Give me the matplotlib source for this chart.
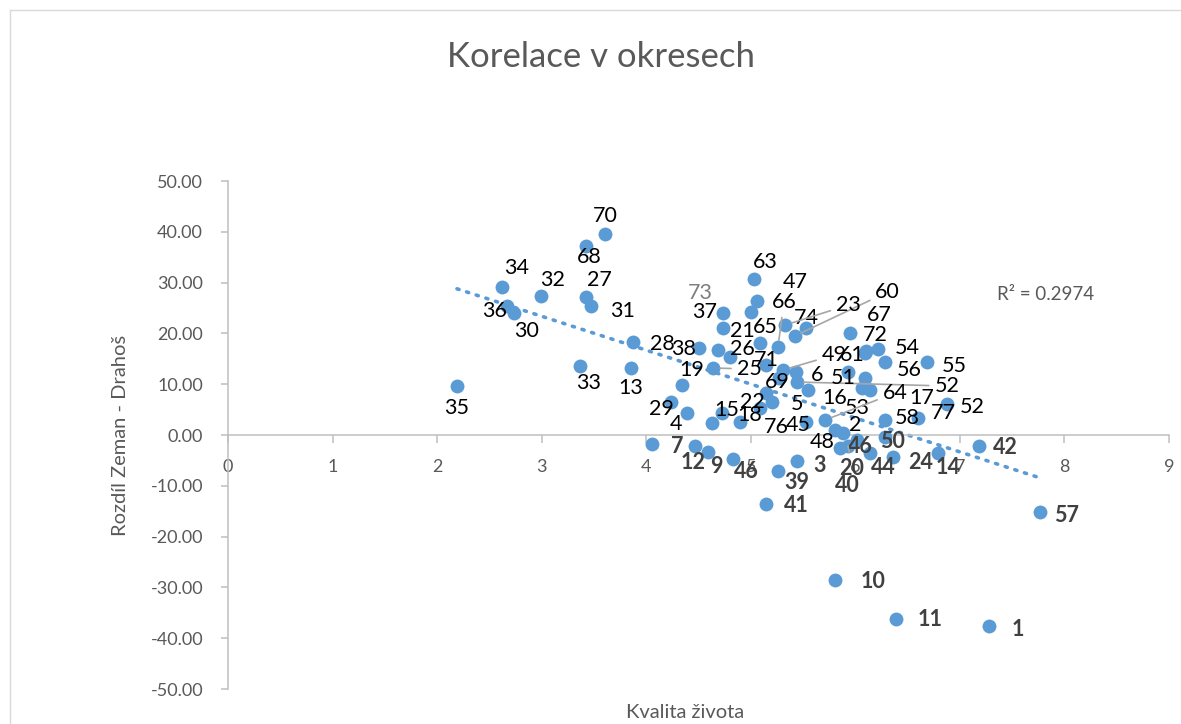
import matplotlib
matplotlib.use('Agg')
import matplotlib.pyplot as plt
import numpy as np
from matplotlib.lines import Line2D

plt.rcParams['font.family'] = ['Lato', 'DejaVu Sans']

# ---------------- data ----------------
okres = ['35', '34', '36', '30', '32', '27', '31', '68', '70', '33',
         '13', '28', '29', '4', '19', '25', '73', '37', '38', '21',
         '26', '65', '63', '47', '', '66', '60', '74', '23', '71',
         '69', '6', '5', '22', '76', '', '15', '', '18', '45',
         '49', '52', '72', '61', '67', '54', '56', '55', '51', '16',
         '53', '17', '58', '77', '52', '64', '2', '48', '46', '20',
         '40', '44', '50', '24', '14', '42', '57', '1', '11', '10',
         '3', '39', '41', '46', '9', '12', '7']

kvalita = [2.19, 2.62, 2.67, 2.74, 2.99, 3.42, 3.47, 3.42, 3.61, 3.37,
           3.85, 3.87, 4.24, 4.39, 4.34, 4.64, 4.73, 4.73, 4.50, 4.69,
           4.80, 5.09, 5.03, 5.06, 5.00, 5.26, 5.42, 5.53, 5.33, 5.15,
           5.27, 5.43, 5.55, 5.15, 5.20, 5.09, 4.63, 4.72, 4.90, 5.53,
           5.31, 5.44, 5.95, 6.09, 6.10, 6.22, 6.28, 6.69, 5.93, 6.09,
           6.06, 6.14, 6.28, 6.60, 6.88, 5.71, 5.81, 5.88, 6.02, 5.93,
           5.85, 6.14, 6.28, 6.36, 6.79, 7.18, 7.77, 7.28, 6.39, 5.81,
           5.44, 5.26, 5.15, 4.83, 4.59, 4.47, 4.06]

rozdil = [9.65, 29.13, 25.39, 24.02, 27.36, 27.17, 25.39, 37.20, 39.57, 13.58,
          13.19, 18.31, 6.50, 4.33, 9.84, 13.19, 24.02, 21.06, 17.13, 16.73,
          15.35, 18.11, 30.71, 26.38, 24.21, 17.32, 19.49, 21.06, 21.65, 13.78,
          11.22, 12.40, 8.86, 8.27, 6.50, 5.31, 2.36, 4.33, 2.56, 2.56,
          12.80, 10.43, 20.08, 16.14, 16.54, 16.93, 14.37, 14.37, 12.40, 11.22,
          9.25, 8.86, 2.95, 3.35, 6.10, 2.95, 0.98, 0.39, -0.98, -2.17,
          -2.56, -3.54, -0.39, -4.33, -3.54, -2.17, -15.16, -37.60, -36.22, -28.54,
          -5.12, -7.09, -13.58, -4.72, -3.35, -2.17, -1.77]

r2_text = 'R² = 0.2974'
title = 'Korelace v okresech'
xlabel = 'Kvalita života'
ylabel = 'Rozdíl Zeman - Drahoš'

# ---------------- label layout (pixel offsets) ----------------
label_offsets = [(0, -22), (15, 19), (-13, -5), (12, -18), (12, 16), (14, 17), (32, -5), (4, -11), (0, 18), (8, -17),
                 (0, -20), (30, -2), (-10, -7), (-11, -11), (10, 15), (36, -1), (-22, 20), (-18, 16), (-15, -1), (24, 19),
                 (13, 8), (5, 16), (11, 17), (38, 19), (0, 0), (6, 45), (93, 44), (0, 10), (63, 20), (0, 5),
                 (-2, -4), (21, -3), (-11, -14), (-14, -9), (5, -25), (0, 0), (15, 13), (0, 0), (9, 7), (-8, -3),
                 (51, 15), (150, -4), (25, -2), (-12, -2), (14, 36), (29, 1), (25, -8), (27, -4), (-5, -6), (-30, -20),
                 (-4, -20), (52, -8), (23, 2), (25, 5), (25, -3), (70, 27), (20, 5), (-21, -9), (3, -7), (4, -22),
                 (8, -37), (13, -15), (8, -5), (28, -6), (10, -15), (27, -1), (26, -3), (29, -3), (34, -1), (38, -2),
                 (23, -4), (19, -11), (30, -2), (13, -13), (8, -14), (-2, -16), (25, -3)]
leader_idx = {15, 25, 26, 28, 40, 41, 55, 59}
gray_labels = {'73'}

W, H = 1181, 724
fig = plt.figure(figsize=(W / 100, H / 100), dpi=100)
ax = fig.add_axes([228 / W, 35 / H, 941 / W, 508 / H])
ax.set_xlim(0, 9)
ax.set_ylim(-50, 50)

blue = '#5b9bd5'
ax.scatter(kvalita, rozdil, s=100, color=blue, linewidths=0, zorder=3)

# linear trendline from data
xa = np.array(kvalita)
ya = np.array(rozdil)
coef = np.polyfit(xa, ya, 1)
xs = np.array([xa.min(), xa.max()])
ax.plot(xs, np.polyval(coef, xs), color=blue, lw=2.6, linestyle=(0, (0.6, 2.2)),
        dash_capstyle='round', zorder=2)

ax.text(7.82, 27.6, r2_text, fontsize=13.5, color='#595959', ha='center', va='center')

# axes styling
axis_col = '#bfbfbf'
for s in ['top', 'right']:
    ax.spines[s].set_visible(False)
ax.spines['bottom'].set_position(('data', 0))
ax.spines['bottom'].set_color(axis_col)
ax.spines['left'].set_color(axis_col)
ax.spines['bottom'].set_linewidth(1.1)
ax.spines['left'].set_linewidth(1.1)
ax.set_xticks(range(0, 10))
ax.set_yticks(np.arange(-50, 51, 10))
ax.set_yticklabels([f'{v:.2f}' for v in np.arange(-50, 51, 10)])
ax.tick_params(axis='x', direction='out', length=6, width=1.1, color=axis_col,
               labelcolor='#595959', labelsize=13, pad=11)
ax.tick_params(axis='y', direction='out', length=5, width=1.1, color=axis_col,
               labelcolor='#595959', labelsize=13, pad=13)

# data labels
for i, (lab, xv, yv) in enumerate(zip(okres, kvalita, rozdil)):
    if not lab:
        continue
    dx, dy = label_offsets[i]
    neg = yv < 0
    color = '#404040' if neg else 'black'
    weight = 'bold' if neg else 'normal'
    if lab in gray_labels:
        color = '#7f7f7f'
    kw = {}
    if i in leader_idx:
        kw['arrowprops'] = dict(arrowstyle='-', color='#a6a6a6', lw=1.2,
                                shrinkA=2, shrinkB=5)
    ax.annotate(lab, (xv, yv), xytext=(dx, dy), textcoords='offset pixels',
                ha='center', va='center', fontsize=15.5, color=color,
                fontweight=weight, zorder=4, **kw)

# titles
fig.text(601 / W, 1 - 57 / H, title, fontsize=25, color='#595959', ha='center', va='center')
fig.text(685 / W, 1 - 712 / H, xlabel, fontsize=14.5, color='#595959', ha='center', va='center')
fig.text(120 / W, 1 - 435 / H, ylabel, fontsize=14.5, color='#595959', ha='center', va='center',
         rotation=90)

# chart border
fig.add_artist(Line2D([10 / W, 10 / W], [0, 1 - 10 / H], transform=fig.transFigure,
                      color='#d9d9d9', lw=1))
fig.add_artist(Line2D([10 / W, 1], [1 - 10 / H, 1 - 10 / H], transform=fig.transFigure,
                      color='#d9d9d9', lw=1))

fig.savefig('out.png', dpi=100)
